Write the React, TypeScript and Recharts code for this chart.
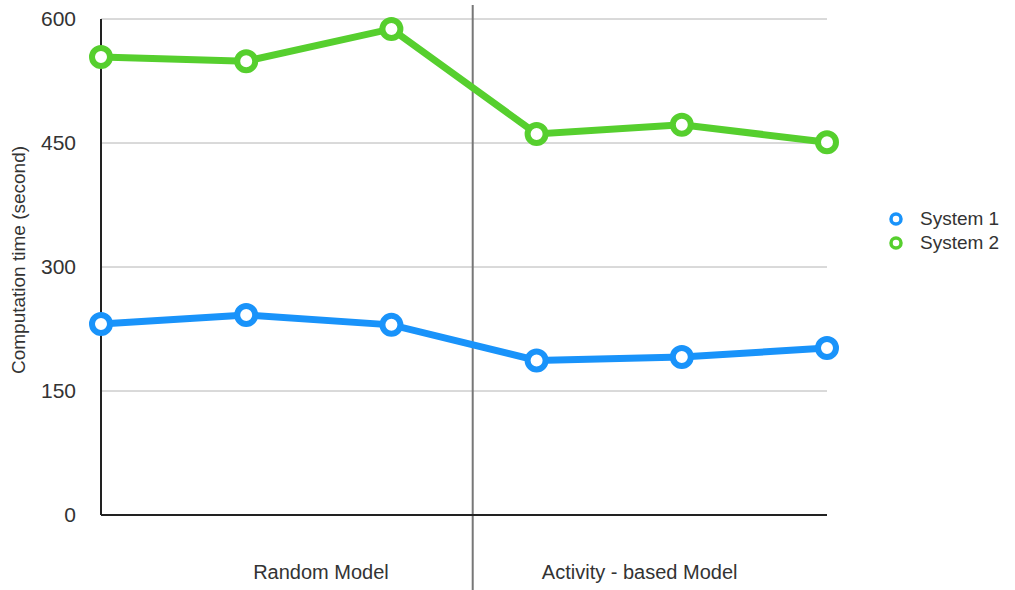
import React from 'react';
import { LineChart, Line, XAxis, YAxis, CartesianGrid, Legend, ReferenceLine } from 'recharts';

const pointIndex = [0, 1, 2, 3, 4, 5];
const system1 = [231, 242, 230, 187, 191, 202];
const system2 = [554, 549, 588, 461, 472, 451];
const groupNames = ['Random Model', 'Activity - based Model'];
const yTicks = [0, 150, 300, 450, 600];

const seriesNames = ['System 1', 'System 2'];
const colors = ['#1993fa', '#56cf2e'];

const data = pointIndex.map((x, i) => ({ x, s1: system1[i], s2: system2[i] }));

// where the group labels and the divider sit on the index axis
const groupTickPos = [1.515, 3.71];
const dividerPos = 2.56;

const font = 'Helvetica, Arial, "Liberation Sans", sans-serif';

const LegendBox = () => (
  <div style={{ fontFamily: font, fontSize: 19, color: '#333' }}>
    {seriesNames.map((name, i) => (
      <div key={name} style={{ display: 'flex', alignItems: 'center', height: 24 }}>
        <svg width={22} height={16} style={{ marginRight: 12 }}>
          <circle cx={10} cy={8} r={5} fill="#fff" stroke={colors[i]} strokeWidth={3.5} />
        </svg>
        <span>{name}</span>
      </div>
    ))}
  </div>
);

export default function App() {
  return (
    <div style={{ position: 'absolute', left: 0, top: 0, width: 1015, height: 590, background: '#fff' }}>
      <LineChart
        width={1015}
        height={590}
        data={data}
        margin={{ top: 19, right: 188, bottom: 0, left: 0 }}
      >
        <CartesianGrid vertical={false} stroke="#b4b4b4" strokeWidth={1} />
        <XAxis
          dataKey="x"
          type="number"
          domain={[0, 5]}
          ticks={groupTickPos}
          tickFormatter={(v: number) => (v < dividerPos ? groupNames[0] : groupNames[1])}
          height={75}
          axisLine={{ stroke: '#222', strokeWidth: 2 }}
          tickLine={false}
          tickSize={0}
          tickMargin={50}
          tick={{ fill: '#333', fontSize: 20, fontFamily: font }}
          interval={0}
        />
        <YAxis
          domain={[0, 600]}
          ticks={yTicks}
          width={101}
          axisLine={{ stroke: '#222', strokeWidth: 2 }}
          tickLine={false}
          tickSize={0}
          tickMargin={25}
          tick={{ fill: '#333', fontSize: 21, fontFamily: font }}
          label={{
            value: 'Computation time (second)',
            angle: -90,
            position: 'insideLeft',
            dx: 13,
            dy: -7,
            style: { textAnchor: 'middle', fill: '#333', fontSize: 19, fontFamily: font },
          }}
        />
        <ReferenceLine
          segment={[{ x: dividerPos, y: -91 }, { x: dividerPos, y: 617 }]}
          ifOverflow="visible"
          stroke="#777"
          strokeWidth={2}
        />
        <Legend
          layout="horizontal"
          verticalAlign="middle"
          content={() => <LegendBox />}
          wrapperStyle={{ left: 886, top: 207, width: 130 }}
        />
        <Line
          dataKey="s1"
          name={seriesNames[0]}
          stroke={colors[0]}
          strokeWidth={7}
          dot={{ r: 9, strokeWidth: 6, fill: '#fff', stroke: colors[0] }}
          isAnimationActive={false}
        />
        <Line
          dataKey="s2"
          name={seriesNames[1]}
          stroke={colors[1]}
          strokeWidth={7}
          dot={{ r: 9, strokeWidth: 6, fill: '#fff', stroke: colors[1] }}
          isAnimationActive={false}
        />
      </LineChart>
    </div>
  );
}
